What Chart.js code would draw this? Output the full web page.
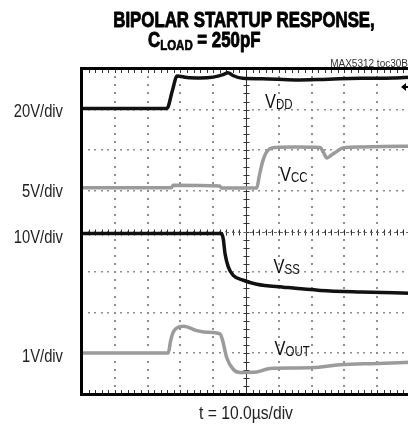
<!DOCTYPE html>
<html>
<head>
<meta charset="utf-8">
<script src="https://cdn.jsdelivr.net/npm/chart.js@4"></script>
<style>
  html, body { margin: 0; padding: 0; background: #fff; overflow: hidden; }
  canvas { display: block; }
</style>
</head>
<body>
<canvas id="scope" width="412" height="433"></canvas>
<script>
// time in µs (10 µs per division), level in screen divisions (0 = bottom, 8 = top)
const vddTime  = [0, 25.9, 27.5, 29.0, 32, 36, 40, 43, 44.5, 46, 49, 55, 65, 75, 85, 95, 100];
const vddLevel = [7.03, 7.03, 7.45, 7.83, 7.79, 7.78, 7.80, 7.86, 7.91, 7.84, 7.77, 7.76, 7.73, 7.75, 7.77, 7.78, 7.80];

const vccTime  = [0, 27.3, 27.8, 42, 42.5, 53.3, 54, 55, 56, 57.3, 59, 65, 72.6, 73.6, 74.7, 76, 78, 79.7, 85, 92, 100];
const vccLevel = [5.08, 5.08, 5.14, 5.12, 5.07, 5.07, 5.35, 5.70, 5.92, 6.04, 6.07, 6.08, 6.07, 5.95, 5.81, 5.88, 5.99, 6.06, 6.08, 6.09, 6.10];

const vssTime  = [0, 42.6, 43.1, 43.6, 44.6, 46.1, 49.2, 53.3, 61.4, 72.6, 85, 100];
const vssLevel = [3.95, 3.95, 3.80, 3.46, 3.13, 2.92, 2.80, 2.70, 2.63, 2.55, 2.51, 2.48];

const voutTime  = [0, 26.3, 27.0, 27.8, 29.9, 31, 35, 38, 42.1, 42.9, 44.1, 46.1, 48.2, 53.3, 57.3, 65, 70.5, 78.7, 90, 100];
const voutLevel = [1.01, 1.01, 1.30, 1.52, 1.66, 1.67, 1.56, 1.52, 1.48, 1.31, 0.90, 0.61, 0.53, 0.54, 0.63, 0.64, 0.65, 0.72, 0.75, 0.78];

const channelSub    = ['DD', 'CC', 'SS', 'OUT'];
const channelScale  = ['20V/div', '5V/div', '10V/div', '1V/div'];
const channelGround = [7.03, 5.07, 3.95, 1.01];
const timeLabel = 't = 10.0µs/div';

const SANS = '"Liberation Sans", Arial, sans-serif';
const INK = '#111';
const GREY = '#9b9b9b';
const SQUEEZE = 0.82;   // narrow face look

const pts = (t, v) => t.map((x, i) => ({x: x, y: v[i]}));

function trace(data, color) {
  return {
    data: data,
    borderColor: color,
    borderWidth: 3.5,
    pointRadius: 0,
    cubicInterpolationMode: 'monotone',
    fill: false
  };
}

// text squeezed horizontally; returns drawn width
function narrowText(ctx, text, x, y, font, align, sx, heavy) {
  ctx.font = font;
  const w = ctx.measureText(text).width * sx;
  const left = align === 'center' ? x - w / 2 : align === 'right' ? x - w : x;
  ctx.save();
  ctx.textAlign = 'left';
  ctx.textBaseline = 'alphabetic';
  ctx.translate(left, y);
  ctx.scale(sx, 1);
  ctx.fillText(text, 0, 0);
  if (heavy) {
    ctx.strokeStyle = ctx.fillStyle;
    ctx.lineWidth = heavy;
    ctx.lineJoin = 'round';
    ctx.strokeText(text, 0, 0);
  }
  ctx.restore();
  return w;
}

// scope graticule: dotted divisions, centre cross, border ticks
const graticule = {
  id: 'graticule',
  beforeDatasetsDraw(chart) {
    const {ctx, chartArea: a, scales: {x, y}} = chart;
    ctx.save();
    ctx.fillStyle = '#8f8f8f';
    for (let i = 1; i < 10; i++) {
      if (i === 5) continue;
      const px = Math.round(x.getPixelForValue(i * 10));
      for (let k = 1; k < 40; k++) {
        ctx.fillRect(px - 1, Math.round(y.getPixelForValue(k / 5)) - 1, 2, 2);
      }
    }
    for (let j = 1; j < 8; j++) {
      const py = Math.round(y.getPixelForValue(j));
      for (let k = 1; k < 50; k++) {
        if (k === 25) continue;
        ctx.fillRect(Math.round(x.getPixelForValue(k * 2)) - 1, py - 1, 2, 1.5);
      }
    }

    // centre vertical axis
    ctx.strokeStyle = '#333';
    ctx.lineWidth = 1;
    const cx = Math.round(x.getPixelForValue(50)) + 0.5;
    ctx.beginPath();
    ctx.moveTo(cx, a.top);
    ctx.lineTo(cx, a.bottom);
    for (let k = 1; k < 40; k++) {
      const py = Math.round(y.getPixelForValue(k / 5)) + 0.5;
      ctx.moveTo(cx - 3, py);
      ctx.lineTo(cx + 3, py);
    }
    // centre horizontal axis ticks
    const cy = Math.round(y.getPixelForValue(4)) + 0.5;
    for (let k = 1; k < 50; k++) {
      const px = Math.round(x.getPixelForValue(k * 2)) + 0.5;
      ctx.moveTo(px, cy - 3);
      ctx.lineTo(px, cy + 3);
    }
    // border ticks
    for (let k = 1; k < 50; k++) {
      const px = Math.round(x.getPixelForValue(k * 2)) + 0.5;
      ctx.moveTo(px, a.top);
      ctx.lineTo(px, a.top + 4);
      ctx.moveTo(px, a.bottom);
      ctx.lineTo(px, a.bottom - 4);
    }
    ctx.stroke();
    ctx.strokeStyle = '#666';
    ctx.setLineDash([3, 3]);
    ctx.beginPath();
    ctx.moveTo(a.left, cy);
    ctx.lineTo(a.right, cy);
    ctx.stroke();
    ctx.restore();
  },
  afterDatasetsDraw(chart) {
    const {ctx, chartArea: a, scales: {x, y}} = chart;
    ctx.save();
    // frame
    ctx.strokeStyle = '#000';
    ctx.lineWidth = 3;
    ctx.strokeRect(a.left - 0.5, a.top - 0.5, a.right - a.left + 1, a.bottom - a.top + 1);

    // channel marker on the right edge
    ctx.fillStyle = '#000';
    ctx.beginPath();
    ctx.moveTo(401, 87);
    ctx.lineTo(406, 83);
    ctx.lineTo(406, 91);
    ctx.closePath();
    ctx.fill();
    ctx.fillRect(405, 86, 4, 2);

    // trace names
    const names = [[55.8, 7.03], [60.4, 5.25], [58.4, 2.98], [58.7, 0.95]];
    ctx.fillStyle = '#111';
    names.forEach((p, i) => {
      const px = x.getPixelForValue(p[0]);
      const py = y.getPixelForValue(p[1]);
      const w = narrowText(ctx, 'V', px, py, '20px ' + SANS, 'left', SQUEEZE);
      narrowText(ctx, channelSub[i], px + w, py + 1, '14px ' + SANS, 'left', SQUEEZE);
    });

    // volts per division, one per channel at its ground level
    ctx.fillStyle = '#222';
    channelScale.forEach((s, i) => {
      narrowText(ctx, s, 63, y.getPixelForValue(channelGround[i]) + 9, '18px ' + SANS, 'right', SQUEEZE);
    });
    narrowText(ctx, timeLabel, (a.left + a.right) / 2, 419, '18px ' + SANS, 'center', 0.87);

    // heading
    ctx.fillStyle = '#000';
    narrowText(ctx, 'BIPOLAR STARTUP RESPONSE,', 244, 27, 'bold 22px ' + SANS, 'center', 0.765, 0.9);
    let hx = 148;
    hx += narrowText(ctx, 'C', hx, 47, 'bold 22px ' + SANS, 'left', 0.765, 0.9);
    hx += narrowText(ctx, 'LOAD', hx, 50, 'bold 15px ' + SANS, 'left', 0.765, 0.7);
    narrowText(ctx, ' = 250pF', hx, 47, 'bold 22px ' + SANS, 'left', 0.765, 0.9);

    ctx.fillStyle = '#333';
    narrowText(ctx, 'MAX5312 toc30B', 408, 67, '10px ' + SANS, 'right', 1);
    ctx.restore();
  }
};

new Chart(document.getElementById('scope'), {
  type: 'line',
  data: {
    datasets: [
      trace(pts(vddTime, vddLevel), INK),
      trace(pts(vccTime, vccLevel), GREY),
      trace(pts(vssTime, vssLevel), INK),
      trace(pts(voutTime, voutLevel), GREY)
    ]
  },
  options: {
    responsive: false,
    animation: false,
    layout: { padding: { top: 69, right: 2, left: 0, bottom: 0 } },
    plugins: { legend: { display: false }, tooltip: { enabled: false } },
    scales: {
      x: {
        type: 'linear',
        min: 0,
        max: 100,
        grid: { display: false },
        border: { display: false },
        ticks: { display: false },
        afterFit: s => { s.height = 39; }
      },
      y: {
        min: 0,
        max: 8,
        grid: { display: false, drawTicks: false },
        border: { display: false },
        ticks: { display: false },
        afterFit: s => { s.width = 82; }
      }
    }
  },
  plugins: [graticule]
});
</script>
</body>
</html>
